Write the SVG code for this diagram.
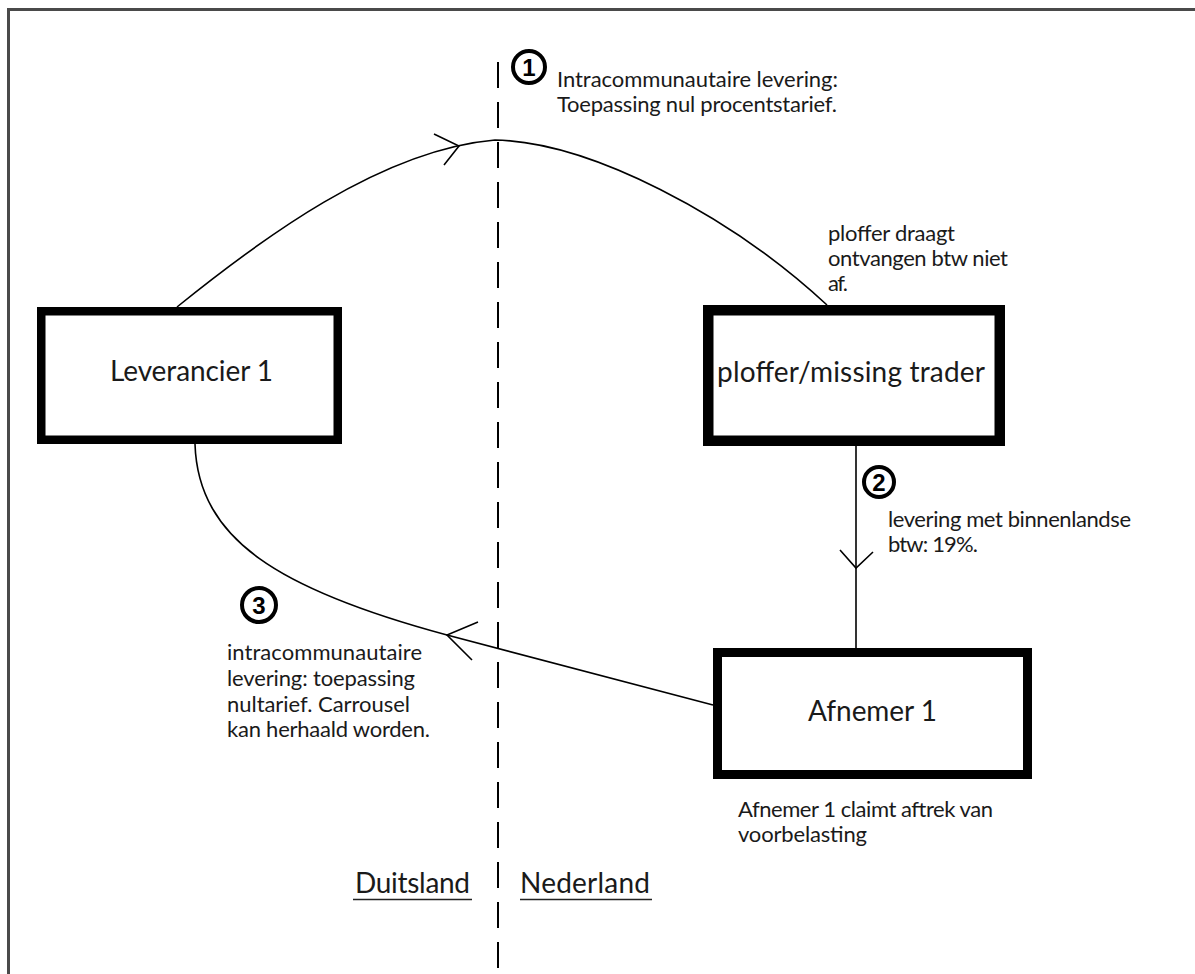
<svg xmlns="http://www.w3.org/2000/svg" width="1195" height="974" viewBox="0 0 1195 974">
<style>
.box{fill:#fff;stroke:#000}
.lbl{font-family:Lato,"Open Sans",sans-serif;font-size:28px;fill:#1a1a1a}
.ann{font-family:Lato,"Open Sans",sans-serif;font-size:22px;fill:#1a1a1a}
.conn{fill:none;stroke:#000;stroke-width:1.6}
.num circle{fill:#fff;stroke:#000;stroke-width:4}
.num text{font-family:"Liberation Sans",Arial,sans-serif;font-size:24px;font-weight:bold;text-anchor:middle;fill:#000}
</style>
<rect x="0" y="0" width="1195" height="974" fill="#fff"/>
<path d="M8.5,974 V9.5 H1195" fill="none" stroke="#4a4a4a" stroke-width="3"/>
<line x1="498" y1="62" x2="498" y2="974" stroke="#000" stroke-width="2" stroke-dasharray="26 14"/>

<g id="connectors">
  <path class="conn" d="M177,307 C260,240 380,150 495,140 C590,142 730,215 827,305"/>
  <path class="conn" d="M434,134 L459,146 L444,165"/>
  <line class="conn" x1="856" y1="446" x2="856" y2="650"/>
  <path class="conn" d="M840,550 L856,568 L873,552"/>
  <path class="conn" d="M195,444 C198,540 280,590 447,635 L713,705"/>
  <path class="conn" d="M478,622 L447,635 L472,660"/>
</g>

<g id="leverancier">
  <rect class="box" x="41.25" y="311.25" width="296.5" height="128.5" stroke-width="8.5"/>
  <text class="lbl" x="110" y="381" textLength="163">Leverancier 1</text>
</g>
<g id="ploffer">
  <rect class="box" x="708.25" y="310.25" width="291.5" height="130.5" stroke-width="10.5"/>
  <text class="lbl" x="717" y="382" textLength="268">ploffer/missing trader</text>
</g>
<g id="afnemer">
  <rect class="box" x="717.5" y="652.5" width="310" height="122" stroke-width="9"/>
  <text class="lbl" x="808" y="721" textLength="129">Afnemer 1</text>
</g>

<g id="num1" class="num"><circle cx="529" cy="67" r="16"/><text x="529" y="76">1</text></g>
<g id="num2" class="num"><circle cx="879" cy="482" r="15"/><text x="879" y="491">2</text></g>
<g id="num3" class="num"><circle cx="259" cy="605" r="17"/><text x="259" y="614">3</text></g>

<g id="note1">
  <text class="ann" x="557" y="87" textLength="281">Intracommunautaire levering:</text>
  <text class="ann" x="557" y="112" textLength="280">Toepassing nul procentstarief.</text>
</g>
<g id="note-ploffer">
  <text class="ann" x="828" y="241" textLength="127">ploffer draagt</text>
  <text class="ann" x="828" y="266" textLength="180">ontvangen btw niet</text>
  <text class="ann" x="828" y="291" textLength="20">af.</text>
</g>
<g id="note2">
  <text class="ann" x="888" y="527" textLength="243">levering met binnenlandse</text>
  <text class="ann" x="888" y="552" textLength="90">btw: 19%.</text>
</g>
<g id="note3">
  <text class="ann" x="227" y="660" textLength="195">intracommunautaire</text>
  <text class="ann" x="227" y="686" textLength="188">levering: toepassing</text>
  <text class="ann" x="227" y="712" textLength="183">nultarief. Carrousel</text>
  <text class="ann" x="227" y="737" textLength="203">kan herhaald worden.</text>
</g>
<g id="note-afnemer">
  <text class="ann" x="738" y="817" textLength="255">Afnemer 1 claimt aftrek van</text>
  <text class="ann" x="738" y="842" textLength="129">voorbelasting</text>
</g>
<g id="countries">
  <text class="lbl" x="355" y="893" textLength="115">Duitsland</text>
  <line x1="353" y1="899.5" x2="472" y2="899.5" stroke="#222" stroke-width="1.5"/>
  <text class="lbl" x="520" y="893" textLength="130">Nederland</text>
  <line x1="520" y1="899.5" x2="652" y2="899.5" stroke="#222" stroke-width="1.5"/>
</g>
</svg>
